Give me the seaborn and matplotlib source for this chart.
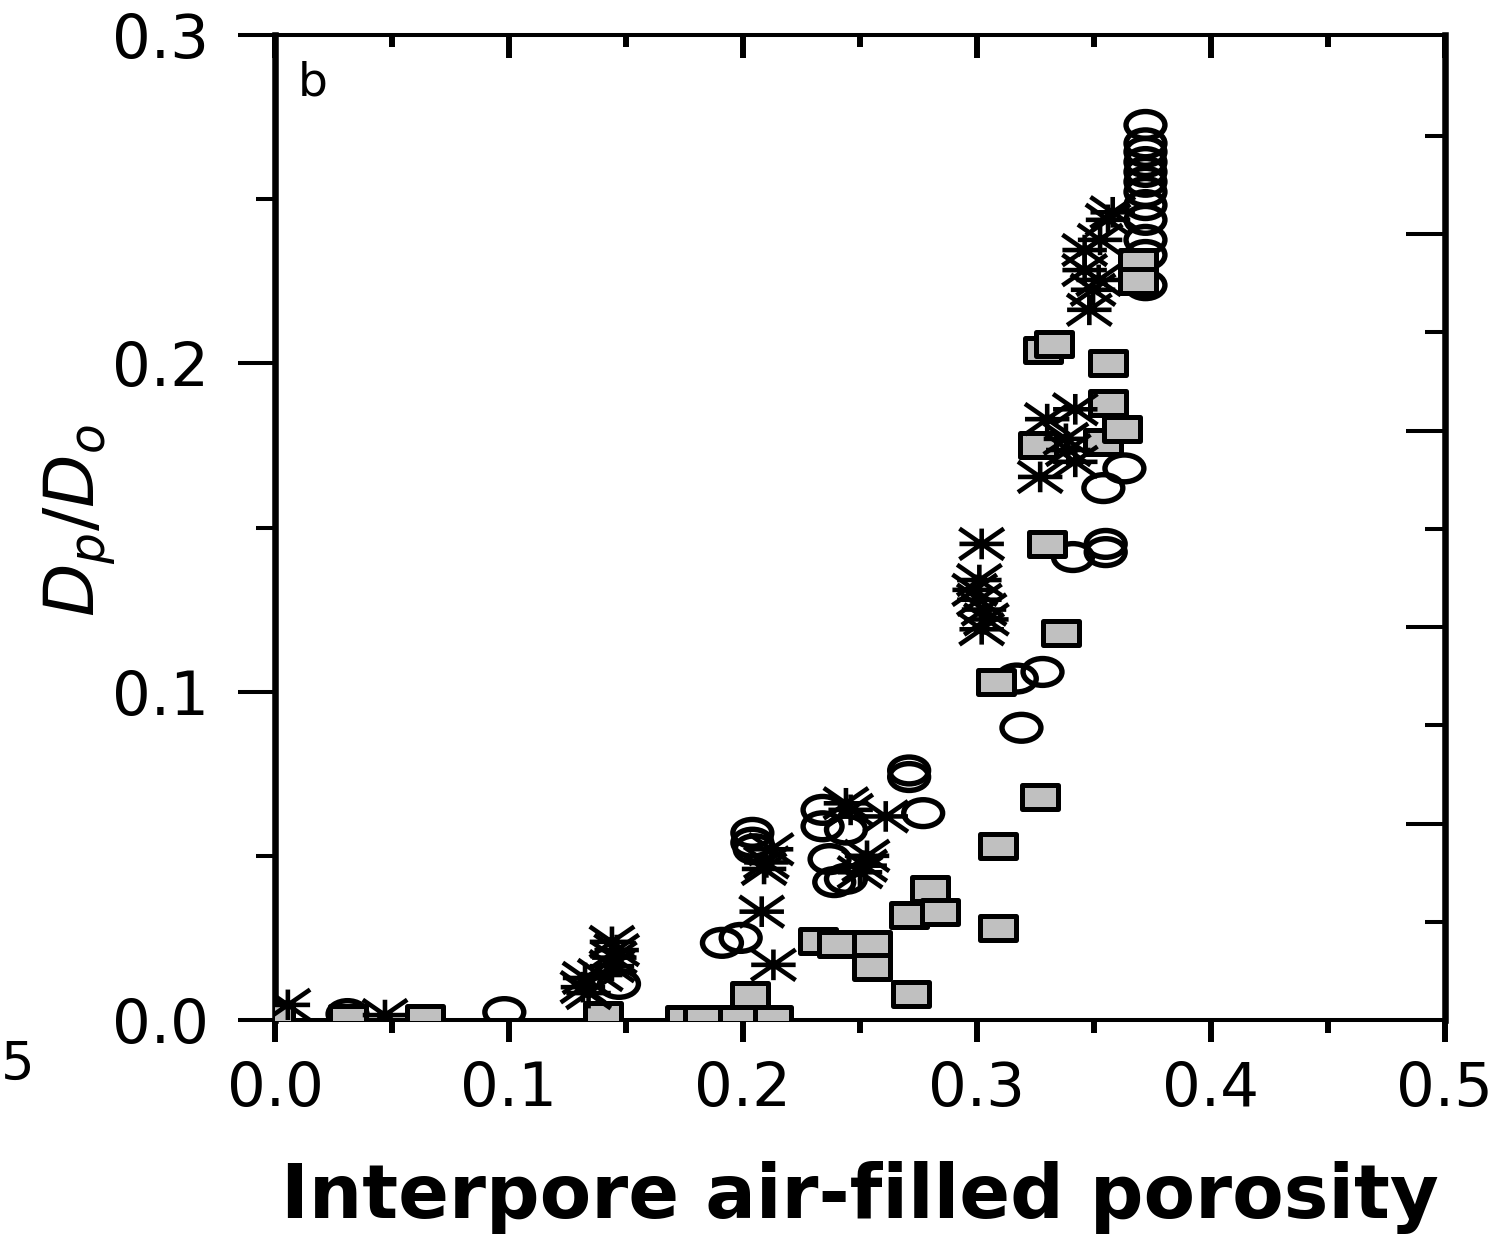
import numpy as np
import pandas as pd
import matplotlib
matplotlib.use("Agg")
import matplotlib.pyplot as plt
import seaborn as sns
from matplotlib.path import Path
from matplotlib.markers import MarkerStyle
from matplotlib.transforms import Affine2D
from matplotlib.ticker import FixedLocator

# ---------------- data ----------------
square_x = [0.000, 0.031, 0.064, 0.140, 0.175, 0.183, 0.198, 0.213, 0.203,
            0.232, 0.240, 0.255, 0.255, 0.272, 0.271, 0.280, 0.284, 0.309,
            0.309, 0.327, 0.308, 0.336, 0.330, 0.326, 0.328, 0.333, 0.356,
            0.356, 0.354, 0.362, 0.369, 0.369]
square_y = [0.0015, 0.0006, 0.0006, 0.0015, 0.0004, 0.0004, 0.0004, 0.0004, 0.0076,
            0.024, 0.023, 0.023, 0.016, 0.008, 0.032, 0.040, 0.033, 0.028,
            0.053, 0.068, 0.103, 0.118, 0.145, 0.175, 0.204, 0.206, 0.200,
            0.188, 0.176, 0.180, 0.231, 0.225]

circle_x = [0.031, 0.098, 0.147, 0.191, 0.199, 0.204, 0.204, 0.205, 0.234,
            0.234, 0.244, 0.237, 0.239, 0.244, 0.271, 0.271, 0.277, 0.319,
            0.317, 0.328, 0.341, 0.355, 0.355, 0.363, 0.354,
            0.372, 0.372, 0.372, 0.372, 0.372, 0.372, 0.372, 0.372, 0.372,
            0.372, 0.372, 0.372]
circle_y = [0.0018, 0.0024, 0.011, 0.0235, 0.025, 0.057, 0.054, 0.052, 0.064,
            0.059, 0.058, 0.049, 0.042, 0.043, 0.076, 0.074, 0.063, 0.089,
            0.104, 0.106, 0.141, 0.145, 0.1425, 0.168, 0.162,
            0.2726, 0.267, 0.2644, 0.2613, 0.2583, 0.2553, 0.2522, 0.2482, 0.2437,
            0.2376, 0.233, 0.2238]

star_x = [0.0055, 0.047, 0.144, 0.146, 0.145, 0.144, 0.139, 0.1325, 0.1316,
          0.134, 0.208, 0.213, 0.212, 0.210, 0.209, 0.244, 0.246, 0.261,
          0.253, 0.252, 0.250, 0.302, 0.301, 0.299, 0.301, 0.303, 0.304,
          0.302, 0.330, 0.342, 0.338, 0.339, 0.342, 0.327, 0.356, 0.3526,
          0.346, 0.346, 0.352, 0.3496, 0.348, 0.358]
star_y = [0.0046, 0.0015, 0.0238, 0.0213, 0.019, 0.0164, 0.0137, 0.0128, 0.010,
          0.0082, 0.033, 0.0168, 0.052, 0.048, 0.046, 0.066, 0.064, 0.062,
          0.050, 0.047, 0.045, 0.145, 0.134, 0.131, 0.128, 0.125, 0.122,
          0.119, 0.183, 0.186, 0.177, 0.1736, 0.170, 0.1654, 0.2437, 0.2376,
          0.2345, 0.2284, 0.2254, 0.2224, 0.2163, 0.246]

x_major = [0.0, 0.1, 0.2, 0.3, 0.4, 0.5]
x_minor = [0.05, 0.15, 0.25, 0.35, 0.45]
y_major = [0.0, 0.1, 0.2, 0.3]
y_minor = [0.05, 0.15, 0.25]
x_ticklabels = ["0.0", "0.1", "0.2", "0.3", "0.4", "0.5"]
y_ticklabels = ["0.0", "0.1", "0.2", "0.3"]
right_major = [1, 2, 3, 4]
right_minor = [0.5, 1.5, 2.5, 3.5, 4.5]

df_sq = pd.DataFrame({"x": square_x, "y": square_y})
df_ci = pd.DataFrame({"x": circle_x, "y": circle_y})
df_st = pd.DataFrame({"x": star_x, "y": star_y})

# ---------------- style ----------------
sns.set_theme(style="ticks")
plt.rcParams["font.family"] = ["DejaVu Sans"]
plt.rcParams["mathtext.fontset"] = "dejavusans"

W, H = 1512, 1240
fig = plt.figure(figsize=(W / 100, H / 100), dpi=100)
L, R, T, B = 275, 1445, 35, 1020
ax = fig.add_axes([L / W, 1 - B / H, (R - L) / W, (B - T) / H])

# stretched marker shapes
SX = 1.45
ellipse = MarkerStyle(Path.unit_circle().transformed(Affine2D().scale(SX, 1.0)))
rect = MarkerStyle(Path([(-SX, -1), (SX, -1), (SX, 1), (-SX, 1), (-SX, -1)],
                        [Path.MOVETO, Path.LINETO, Path.LINETO, Path.LINETO, Path.CLOSEPOLY]))
star_verts = [(0, -1), (0, 1), (-SX, 0), (SX, 0), (-SX, -1), (SX, 1), (-SX, 1), (SX, -1)]
star_codes = [Path.MOVETO, Path.LINETO] * 4
star = MarkerStyle(Path(star_verts, star_codes))

sns.scatterplot(data=df_ci, x="x", y="y", ax=ax, marker=ellipse, s=28 ** 2,
                facecolor="none", edgecolor="black", linewidth=3.9, zorder=2,
                legend=False)
sns.scatterplot(data=df_sq, x="x", y="y", ax=ax, marker=rect, s=26 ** 2,
                facecolor="#c0c0c0", edgecolor="black", linewidth=3.6, zorder=3,
                legend=False)
sns.scatterplot(data=df_st, x="x", y="y", ax=ax, marker=star, s=32 ** 2,
                facecolor="none", edgecolor="black", linewidth=3.3, zorder=4,
                legend=False)

ax.set_xlim(0, 0.5)
ax.set_ylim(0, 0.3)
ax.xaxis.set_major_locator(FixedLocator(x_major))
ax.xaxis.set_minor_locator(FixedLocator(x_minor))
ax.yaxis.set_major_locator(FixedLocator(y_major))
ax.yaxis.set_minor_locator(FixedLocator(y_minor))
ax.set_xticklabels(x_ticklabels)
ax.set_yticklabels(y_ticklabels)

ax.tick_params(axis="x", which="major", direction="out", length=16, width=4.3,
               pad=13, labelsize=44, color="black", labelcolor="black",
               top=False, bottom=True)
ax.tick_params(axis="x", which="minor", direction="out", length=9.5, width=4.3,
               top=False, bottom=True, color="black")
ax.tick_params(axis="y", which="major", direction="out", length=26.6, width=2.9,
               pad=21, labelsize=44, color="black", labelcolor="black",
               left=True, right=False)
ax.tick_params(axis="y", which="minor", direction="out", length=13.7, width=2.9,
               left=True, right=False, color="black")

for side, lw in {"left": 4.7, "right": 4.7, "top": 2.9, "bottom": 2.9}.items():
    ax.spines[side].set_visible(True)
    ax.spines[side].set_linewidth(lw)
    ax.spines[side].set_color("black")

# top ticks (inward) mirroring the x scale
ax_t = ax.twiny()
ax_t.set_xlim(0, 0.5)
ax_t.xaxis.set_major_locator(FixedLocator(x_major))
ax_t.xaxis.set_minor_locator(FixedLocator(x_minor))
ax_t.tick_params(axis="x", which="major", direction="in", length=16.5, width=4.3,
                 labeltop=False, top=True, bottom=False, color="black")
ax_t.tick_params(axis="x", which="minor", direction="in", length=8.6, width=4.3,
                 top=True, bottom=False, color="black")
ax_t.tick_params(axis="y", left=False, right=False, labelleft=False, labelright=False)
for s in ax_t.spines.values():
    s.set_visible(False)

# right ticks (inward) belonging to a separate scale
ax_r = ax.twinx()
ax_r.set_ylim(0, 5.013)
ax_r.yaxis.set_major_locator(FixedLocator(right_major))
ax_r.yaxis.set_minor_locator(FixedLocator(right_minor))
ax_r.tick_params(axis="y", which="major", direction="in", length=28, width=2.9,
                 labelright=False, right=True, left=False, color="black")
ax_r.tick_params(axis="y", which="minor", direction="in", length=14.4, width=2.9,
                 right=True, left=False, color="black")
ax_r.tick_params(axis="x", top=False, bottom=False, labelbottom=False, labeltop=False)
for s in ax_r.spines.values():
    s.set_visible(False)

# axis labels
ax.set_xlabel("Interpore air-filled porosity", fontsize=54, fontweight="bold",
              color="black")
ax.xaxis.label.set_va("baseline")
ax.xaxis.set_label_coords(0.5, (B - 1218) / (B - T))

ax.set_ylabel(r"$D_p/D_o$", fontsize=50, color="black")
ax.yaxis.label.set_va("center")
ax.yaxis.set_label_coords((80 - L) / (R - L), (B - 521) / (B - T))

# panel letter and fragment at the left edge
ax.text((298 - L) / (R - L), (B - 95) / (B - T), "b", transform=ax.transAxes,
        fontsize=34, ha="left", va="baseline", color="black")
fig.text(1 / W, 1 - 1080 / H, "5", fontsize=38, ha="left", va="baseline",
         color="black")

fig.savefig("out.png", dpi=100, facecolor="white")
